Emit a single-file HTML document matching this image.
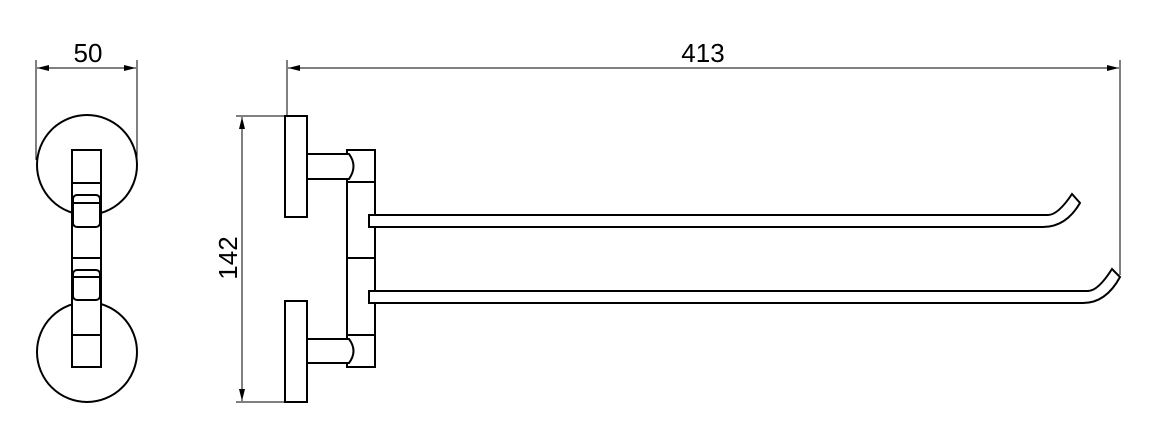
<!DOCTYPE html>
<html><head><style>body{margin:0;background:#fff}svg{display:block}</style></head><body>
<svg width="1160" height="425" viewBox="0 0 1160 425" xmlns="http://www.w3.org/2000/svg">
<defs><marker id="a" viewBox="0 0 12 6" refX="12" refY="3" markerWidth="12" markerHeight="6" orient="auto-start-reverse" markerUnits="userSpaceOnUse"><path d="M0,0L12,3L0,6z" fill="#000"/></marker></defs>
<g fill="none" stroke="#000" stroke-width="1">
<line x1="36" y1="60" x2="36" y2="160"/><line x1="137" y1="60" x2="137" y2="160"/>
<line x1="37" y1="68" x2="136" y2="68" marker-start="url(#a)" marker-end="url(#a)"/>
<line x1="287" y1="60" x2="287" y2="116"/><line x1="1120" y1="60" x2="1120" y2="275"/>
<line x1="288" y1="68" x2="1119" y2="68" marker-start="url(#a)" marker-end="url(#a)"/>
<line x1="236" y1="116" x2="285" y2="116"/><line x1="236" y1="402" x2="285" y2="402"/>
<line x1="242" y1="117" x2="242" y2="401" marker-start="url(#a)" marker-end="url(#a)"/>
</g>
<g fill="#fff" stroke="#000" stroke-width="2">
<circle cx="87" cy="165" r="50"/><circle cx="87" cy="352" r="50"/>
<rect x="72" y="150" width="29" height="217"/>
<line x1="72" y1="183" x2="101" y2="183"/><line x1="72" y1="258" x2="101" y2="258"/><line x1="72" y1="335" x2="101" y2="335"/>
<rect x="73" y="195" width="27" height="32" rx="4"/><rect x="73" y="270" width="27" height="30" rx="4"/>
<line x1="74" y1="203" x2="99" y2="203"/><line x1="74" y1="277" x2="99" y2="277"/>
<rect x="285" y="116" width="22" height="101"/><rect x="285" y="301" width="22" height="101"/>
<rect x="347" y="150" width="28" height="217"/>
<line x1="347" y1="182" x2="375" y2="182"/><line x1="347" y1="258" x2="375" y2="258"/><line x1="347" y1="335" x2="375" y2="335"/>
<path d="M307,154H349Q358,166 349,179H307Z"/>
<path d="M307,339H349Q358,351 349,363H307Z"/>
<path d="M369,215H1048Q1058,215 1072,194L1080,203Q1066,227 1043,227H369Z"/>
<path d="M369,291H1088Q1098,291 1112,269L1120,277Q1106,303 1083,303H369Z"/>
</g>
<g font-family="Liberation Sans, sans-serif" font-size="26" text-anchor="middle" fill="#000">
<text x="88" y="62">50</text><text x="703" y="62">413</text>
<text transform="translate(237,258) rotate(-90)">142</text>
</g>
</svg>
</body></html>
